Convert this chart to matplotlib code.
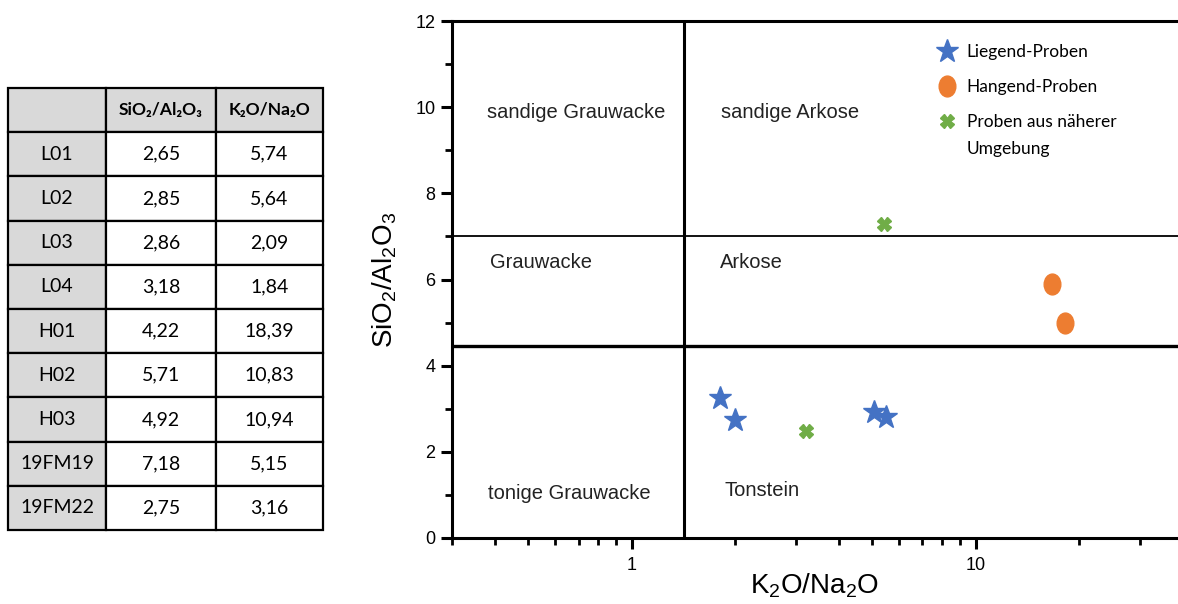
import numpy as np
import matplotlib
matplotlib.use("Agg")
import matplotlib.pyplot as plt
from matplotlib.path import Path
from matplotlib.lines import Line2D
from matplotlib.transforms import ScaledTranslation

plt.rcParams['font.family'] = ['Liberation Sans', 'DejaVu Sans']
plt.rcParams['mathtext.default'] = 'regular'

# table values
samples = ['L01', 'L02', 'L03', 'L04', 'H01', 'H02', 'H03', '19FM19', '19FM22']
sio2_al2o3 = [2.65, 2.85, 2.86, 3.18, 4.22, 5.71, 4.92, 7.18, 2.75]
k2o_na2o = [5.74, 5.64, 2.09, 1.84, 18.39, 10.83, 10.94, 5.15, 3.16]
col_labels = ['', 'SiO₂/Al₂O₃', 'K₂O/Na₂O']

# points as plotted in the diagram (x = K2O/Na2O, y = SiO2/Al2O3)
liegend_x = [1.80, 1.99, 5.06, 5.48]
liegend_y = [3.25, 2.74, 2.92, 2.81]
hangend_x = [16.7, 18.2]
hangend_y = [5.89, 4.99]
umgebung_x = [5.41, 3.22]
umgebung_y = [7.28, 2.48]

# field boundaries and names
x_split = 1.42
y_split_low = 4.46
y_split_high = 7.0
fields = [
    ('sandige Grauwacke', 0.38, 9.88),
    ('sandige Arkose', 1.82, 9.88),
    ('Grauwacke', 0.388, 6.40),
    ('Arkose', 1.80, 6.40),
    ('tonige Grauwacke', 0.382, 1.04),
    ('Tonstein', 1.86, 1.11),
]

fig = plt.figure(figsize=(11.78, 6.04), dpi=100)

# ---- table ----
tax = fig.add_axes([8 / 1178, 74 / 604, 315 / 1178, 442 / 604])
tax.axis('off')
fmt = lambda v: f"{v:.2f}".replace('.', ',')
cell_text = [[s, fmt(a), fmt(b)] for s, a, b in zip(samples, sio2_al2o3, k2o_na2o)]
gray = '#d9d9d9'
colours = [[gray, 'white', 'white'] for _ in samples]
tbl = tax.table(cellText=cell_text, colLabels=col_labels, cellColours=colours,
                colColours=[gray, gray, gray], colWidths=[98, 110, 107],
                cellLoc='center', bbox=[0, 0, 1, 1])
tbl.auto_set_font_size(False)
for (r, c), cell in tbl.get_celld().items():
    cell.set_linewidth(1.6)
    cell.set_edgecolor('black')
    txt = cell.get_text()
    txt.set_fontfamily(['Lato', 'DejaVu Sans'])
    if r == 0:
        txt.set_fontsize(12.5)
        txt.set_fontweight('bold')
    else:
        txt.set_fontsize(14)

# ---- diagram ----
ax = fig.add_axes([452 / 1178, 66 / 604, 726 / 1178, 517 / 604])
ax.set_xscale('log')
ax.set_xlim(0.3, 38.8)
ax.set_ylim(0, 12)

ax.axvline(x_split, color='black', lw=2.2)
ax.axhline(y_split_low, color='black', lw=2.4)
ax.axhline(y_split_high, color='black', lw=1.3)

for name, fx, fy in fields:
    ax.text(fx, fy, name, fontsize=14.5, color='#222222', va='center', ha='left')

ellipse = Path(Path.unit_circle().vertices * [0.8, 1.0], Path.unit_circle().codes)
ax.plot(liegend_x, liegend_y, ls='none', marker='*', ms=17, color='#4472c4')
ax.plot(hangend_x, hangend_y, ls='none', marker=ellipse, ms=15, color='#ed7d31')
ax.plot(umgebung_x, umgebung_y, ls='none', marker='X', ms=10, color='#70ad47')

handles = [
    Line2D([], [], ls='none', marker='*', ms=17, color='#4472c4'),
    Line2D([], [], ls='none', marker=ellipse, ms=15, color='#ed7d31'),
    Line2D([], [], ls='none', marker='X', ms=10, color='#70ad47'),
    Line2D([], [], ls='none'),
]
legend_labels = ['Liegend-Proben', 'Hangend-Proben', 'Proben aus näherer', 'Umgebung']
leg = ax.legend(handles, legend_labels, loc='upper left', bbox_to_anchor=(0.642, 0.985),
                frameon=False, handletextpad=0.4, labelspacing=1.08, handlelength=1.5,
                prop={'family': 'Lato', 'size': 12.5})
# second line of the last entry sits closer to the first one
last = leg.get_texts()[3]
last.set_transform(last.get_transform() + ScaledTranslation(0, 0.08, fig.dpi_scale_trans))

for side in ['left', 'bottom', 'top']:
    ax.spines[side].set_linewidth(2.2)
ax.spines['right'].set_visible(False)

ax.set_yticks(range(0, 13, 2))
ax.set_yticks(range(1, 12, 2), minor=True)
ax.set_xticks([1, 10])
ax.set_xticklabels(['1', '10'])
ax.xaxis.set_minor_locator(matplotlib.ticker.LogLocator(base=10, subs=np.arange(2, 10)))
ax.xaxis.set_minor_formatter(matplotlib.ticker.NullFormatter())
ax.tick_params(which='major', length=8, width=2.2, labelsize=13, pad=6, color='black')
ax.tick_params(which='minor', length=5, width=2.0, color='black')
ax.tick_params(axis='y', which='major', pad=4)

ax.set_xlabel('K$_2$O/Na$_2$O', fontsize=20, labelpad=-2)
ax.set_ylabel('SiO$_2$/Al$_2$O$_3$', fontsize=20, labelpad=12)

fig.savefig('out.png', dpi=100)
